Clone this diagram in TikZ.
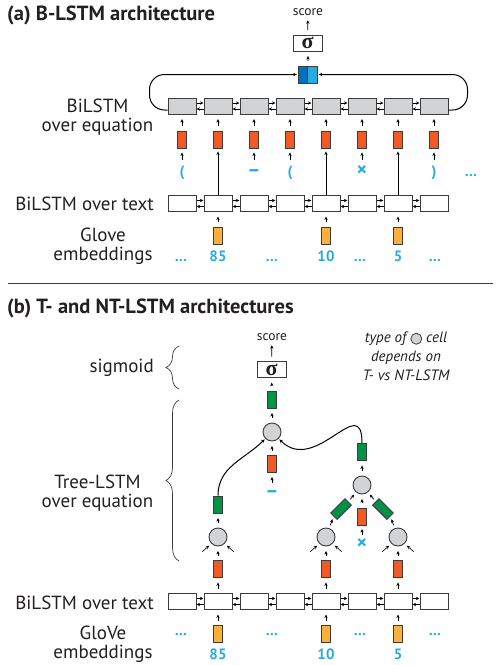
\documentclass[tikz,border=0pt]{standalone}
\usepackage{fontspec}
\setmainfont{PT Sans}
\newfontfamily\sigmafont{Liberation Serif}
\usetikzlibrary{arrows.meta,decorations.pathreplacing}
\tikzset{>={Stealth[length=3.5pt,width=3.2pt]}}
\definecolor{linec}{HTML}{3C3C3C}
\definecolor{cellgray}{HTML}{D1D3D4}
\definecolor{vorange}{HTML}{F15A24}
\definecolor{vyellow}{HTML}{FBB03B}
\definecolor{vgreen}{HTML}{009245}
\definecolor{symblue}{HTML}{29ABE2}
\definecolor{darkblue}{HTML}{0071BC}
\definecolor{inkc}{HTML}{231F20}
\newcommand{\bigsym}[1]{{\fontsize{20}{20}\selectfont #1}}

\begin{document}
\begin{tikzpicture}[x=1pt, y=-1pt, every node/.style={text=inkc},
    box/.style={draw=linec, line width=1pt, minimum width=28pt, minimum height=16pt, inner sep=0pt},
    eqcell/.style={box, fill=cellgray},
    txtcell/.style={box, fill=white},
    vec/.style={draw=linec, line width=0.9pt, minimum width=9pt, minimum height=17pt, inner sep=0pt},
    unit/.style={circle, draw=linec, line width=0.9pt, fill=cellgray, minimum size=18pt, inner sep=0pt},
    sigbox/.style={draw=linec, line width=1pt, minimum width=29pt, minimum height=16pt, inner sep=0pt, font=\sigmafont\bfseries\fontsize{22}{22}\selectfont},
    tok/.style={text=symblue, anchor=base, inner sep=0pt, text height=10pt, text depth=3pt, font=\bfseries\fontsize{15}{15}\selectfont},
    lab/.style={align=center, inner sep=0pt, font=\fontsize{19}{19}\selectfont},
    ttl/.style={anchor=west, inner sep=0pt, font=\bfseries\fontsize{20.5}{20.5}\selectfont},
    smalltxt/.style={inner sep=0pt, font=\fontsize{13.5}{13.5}\selectfont},
    arr/.style={->, line width=0.7pt, shorten <=4.5pt, shorten >=4.5pt},
    tick/.style={->, line width=0.6pt},
    link/.style={->, line width=1pt, shorten >=1pt},
    brc/.style={decorate, decoration={brace, amplitude=13pt}, line width=0.7pt, draw=linec}
]
\useasboundingbox (0,0) rectangle (499,665);

% (a) B-LSTM
\node[ttl] (tta) at (7,15) {(a) B-LSTM architecture};
\foreach \i in {1,...,8} {
    \node[eqcell] (e\i) at (146+36*\i,106) {};
    \node[vec, fill=vorange] (o\i) at (146+36*\i,139.5) {};
    \node[txtcell] (t\i) at (146+36*\i,203.5) {};
    \draw[arr] (o\i) -- (e\i);
}
\foreach \i [count=\j from 2] in {1,...,7} {
    \draw[tick] ([yshift=3pt]e\i.east) -- ([yshift=3pt]e\j.west);
    \draw[tick] ([yshift=-3pt]e\j.west) -- ([yshift=-3pt]e\i.east);
    \draw[tick] ([yshift=3pt]t\i.east) -- ([yshift=3pt]t\j.west);
    \draw[tick] ([yshift=-3pt]t\j.west) -- ([yshift=-3pt]t\i.east);
}
\node[tok] (s1) at (182,176.5) {(};
\node[tok] (s3) at (254,176.5) {\bigsym{–}};
\node[tok] (s4) at (290,176.5) {(};
\node[tok] (s6) at (362,176.5) {\bigsym{×}};
\node[tok] (s8) at (434,176.5) {)};
\node[tok] (s9) at (471,176.5) {…};
\foreach \i in {1,3,4,6,8}
    \draw[arr, shorten <=6.5pt, shorten >=4pt] (s\i) -- (o\i);
\foreach \i in {2,5,7} {
    \draw[link, shorten >=3pt] (t\i) -- (o\i);
    \node[vec, fill=vyellow] (y\i) at (146+36*\i,235.5) {};
    \draw[arr] (y\i) -- (t\i);
}
\node[vec, fill=darkblue, minimum width=9.5pt] (pl) at (303,74.5) {};
\node[vec, fill=symblue, minimum width=9.5pt] (pr) at (312.5,74.5) {};
\node[sigbox] (sga) at (307.5,43) {σ};
\node[smalltxt] (sca) at (308,12) {score};
\draw[arr] (pl.north east) -- (sga);
\draw[arr] (sga) -- (sca);
\draw[link, rounded corners=15pt] ([yshift=-4pt]e1.west) -- ++(-18,0) |- (pl.west);
\draw[link, rounded corners=15pt] ([yshift=-4pt]e8.east) -- ++(19,0) |- (pr.east);

\node[lab] (lbeqa) at (97.5,117) {BiLSTM\\over equation};
\node[lab, anchor=east] (lbtxa) at (154,203.5) {BiLSTM over text};
\node[lab] (lbgla) at (103,246) {Glove\\embeddings};
\node[tok] (da1) at (181,261.5) {…};
\node[tok] (na2) at (218,261.5) {85};
\node[tok] (da2) at (272,261.5) {…};
\node[tok] (na5) at (326,261.5) {10};
\node[tok] (da3) at (360,261.5) {…};
\node[tok] (na7) at (398,261.5) {5};
\node[tok] (da4) at (435,261.5) {…};

\draw[line width=0.8pt, draw=linec] (8,283) -- (493,283);

% (b) T- and NT-LSTM
\node[ttl] (ttb) at (7,308) {(b) T- and NT-LSTM architectures};
\node[smalltxt] (scb) at (272,337) {score};
\node[sigbox] (sgb) at (271.5,369.5) {σ};
\node[vec, fill=vgreen] (gtop) at (272,399.5) {};
\node[unit] (root) at (272,432) {};
\node[vec, fill=vorange] (oroot) at (272,464) {};
\node[tok] (sminus) at (272,497.5) {\bigsym{–}};
\draw[arr] (sgb) -- (scb);
\draw[arr] (gtop) -- (sgb);
\draw[arr] (root) -- (gtop);
\draw[arr] (oroot) -- (root);
\draw[arr, shorten <=4pt, shorten >=4pt] (sminus) -- (oroot);

\foreach \i in {1,...,8}
    \node[txtcell] (u\i) at (146+36*\i,601.5) {};
\foreach \i [count=\j from 2] in {1,...,7} {
    \draw[tick] ([yshift=3pt]u\i.east) -- ([yshift=3pt]u\j.west);
    \draw[tick] ([yshift=-3pt]u\j.west) -- ([yshift=-3pt]u\i.east);
}
\foreach \i in {2,5,7} {
    \node[vec, fill=vyellow] (yb\i) at (146+36*\i,634) {};
    \node[vec, fill=vorange] (ob\i) at (146+36*\i,569) {};
    \node[unit] (c\i) at (146+36*\i,537) {};
    \draw[arr] (yb\i) -- (u\i);
    \draw[arr] (u\i) -- (ob\i);
    \draw[arr] (ob\i) -- (c\i);
    \draw[tick, shorten >=3pt] ([shift={(-9,8)}]c\i.225) -- (c\i.225);
    \draw[tick, shorten >=3pt] ([shift={(9,8)}]c\i.-45) -- (c\i.-45);
}
\node[vec, fill=vgreen] (g2) at (218,504.5) {};
\draw[arr] (c2) -- (g2);
\draw[link] (g2.north) to[out=90, in=-135] (root.-135);

\node[unit] (c6) at (362,485) {};
\node[vec, fill=vgreen] (gright) at (362,452) {};
\node[vec, fill=vorange] (o6) at (362,516.5) {};
\node[tok] (stimes) at (362,549) {\bigsym{×}};
\node[vec, fill=vgreen, minimum height=20pt, rotate=-45] (gl) at (341,509) {};
\node[vec, fill=vgreen, minimum height=20pt, rotate=45] (gr) at (383,509) {};
\draw[arr] (c6) -- (gright);
\draw[arr] (o6) -- (c6);
\draw[arr, shorten <=3.5pt, shorten >=3.5pt] (stimes) -- (o6);
\draw[arr, shorten <=3pt, shorten >=3pt] (c5) -- (gl.south);
\draw[arr, shorten <=3pt, shorten >=3pt] (gl.north) -- (c6);
\draw[arr, shorten <=3pt, shorten >=3pt] (c7) -- (gr.south);
\draw[arr, shorten <=3pt, shorten >=3pt] (gr.north) -- (c6);
\draw[link] (gright.north) to[out=90, in=-45, looseness=1.6] (root.-45);

\node[smalltxt, align=center, font=\itshape\fontsize{15}{19}\selectfont] (note) at (406,356)
    {type of \tikz[baseline=-3.5pt]\node[circle, draw=linec, fill=cellgray, line width=0.8pt, minimum size=11pt, inner sep=0pt]{}; cell\\depends on\\T- vs NT-LSTM};

\node[lab, anchor=east] (lbsig) at (154,368) {sigmoid};
\node[lab] (lbtree) at (97.5,493) {Tree-LSTM\\over equation};
\node[lab, anchor=east] (lbtxb) at (154,603) {BiLSTM over text};
\node[lab] (lbglb) at (103,644) {GloVe\\embeddings};
\draw[brc] (179,389) -- (179,346);
\draw[brc] (179,561) -- (179,400);

\node[tok] (db1) at (181,635) {…};
\node[tok] (db2) at (272,635) {…};
\node[tok] (db3) at (360,635) {…};
\node[tok] (db4) at (435,635) {…};
\node[tok] (nb2) at (218,659.5) {85};
\node[tok] (nb5) at (326,659.5) {10};
\node[tok] (nb7) at (398,659.5) {5};
\end{tikzpicture}
\end{document}
